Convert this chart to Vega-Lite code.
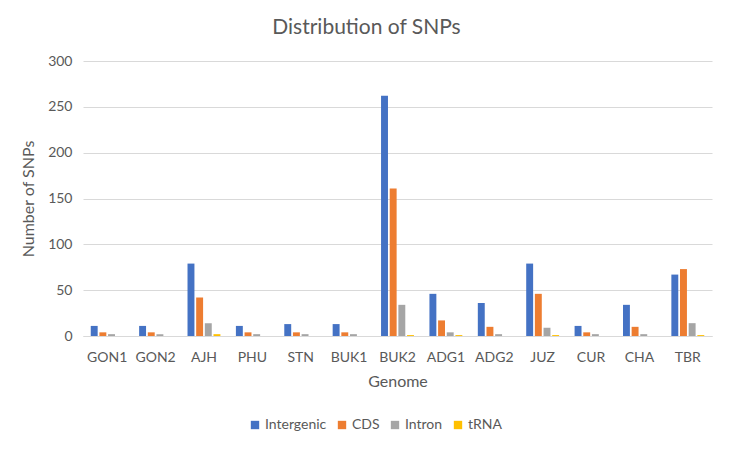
{
  "$schema": "https://vega.github.io/schema/vega-lite/v6.json",
  "width": 629,
  "height": 275,
  "autosize": {"type": "none"},
  "padding": {"left": 83, "top": 61, "right": 20, "bottom": 113},
  "background": "white",
  "title": {
    "text": "Distribution of SNPs",
    "fontSize": 21,
    "font": "Lato",
    "fontWeight": "normal",
    "color": "#595959",
    "anchor": "middle",
    "dx": -31,
    "offset": 16
  },
  "config": {
    "font": "Lato",
    "view": {"stroke": null},
    "axis": {"labelColor": "#595959", "titleColor": "#595959", "labelFont": "Lato", "titleFont": "Lato", "titleFontWeight": "normal"}
  },
  "data": {
    "values": [
      {"genome": "GON1", "type": "Intergenic", "snps": 11},
      {"genome": "GON1", "type": "CDS", "snps": 4},
      {"genome": "GON1", "type": "Intron", "snps": 2},
      {"genome": "GON1", "type": "tRNA", "snps": 0},
      {"genome": "GON2", "type": "Intergenic", "snps": 11},
      {"genome": "GON2", "type": "CDS", "snps": 4},
      {"genome": "GON2", "type": "Intron", "snps": 2},
      {"genome": "GON2", "type": "tRNA", "snps": 0},
      {"genome": "AJH", "type": "Intergenic", "snps": 79},
      {"genome": "AJH", "type": "CDS", "snps": 42},
      {"genome": "AJH", "type": "Intron", "snps": 14},
      {"genome": "AJH", "type": "tRNA", "snps": 2},
      {"genome": "PHU", "type": "Intergenic", "snps": 11},
      {"genome": "PHU", "type": "CDS", "snps": 4},
      {"genome": "PHU", "type": "Intron", "snps": 2},
      {"genome": "PHU", "type": "tRNA", "snps": 0},
      {"genome": "STN", "type": "Intergenic", "snps": 13},
      {"genome": "STN", "type": "CDS", "snps": 4},
      {"genome": "STN", "type": "Intron", "snps": 2},
      {"genome": "STN", "type": "tRNA", "snps": 0},
      {"genome": "BUK1", "type": "Intergenic", "snps": 13},
      {"genome": "BUK1", "type": "CDS", "snps": 4},
      {"genome": "BUK1", "type": "Intron", "snps": 2},
      {"genome": "BUK1", "type": "tRNA", "snps": 0},
      {"genome": "BUK2", "type": "Intergenic", "snps": 262},
      {"genome": "BUK2", "type": "CDS", "snps": 161},
      {"genome": "BUK2", "type": "Intron", "snps": 34},
      {"genome": "BUK2", "type": "tRNA", "snps": 1},
      {"genome": "ADG1", "type": "Intergenic", "snps": 46},
      {"genome": "ADG1", "type": "CDS", "snps": 17},
      {"genome": "ADG1", "type": "Intron", "snps": 4},
      {"genome": "ADG1", "type": "tRNA", "snps": 1},
      {"genome": "ADG2", "type": "Intergenic", "snps": 36},
      {"genome": "ADG2", "type": "CDS", "snps": 10},
      {"genome": "ADG2", "type": "Intron", "snps": 2},
      {"genome": "ADG2", "type": "tRNA", "snps": 0},
      {"genome": "JUZ", "type": "Intergenic", "snps": 79},
      {"genome": "JUZ", "type": "CDS", "snps": 46},
      {"genome": "JUZ", "type": "Intron", "snps": 9},
      {"genome": "JUZ", "type": "tRNA", "snps": 1},
      {"genome": "CUR", "type": "Intergenic", "snps": 11},
      {"genome": "CUR", "type": "CDS", "snps": 4},
      {"genome": "CUR", "type": "Intron", "snps": 2},
      {"genome": "CUR", "type": "tRNA", "snps": 0},
      {"genome": "CHA", "type": "Intergenic", "snps": 34},
      {"genome": "CHA", "type": "CDS", "snps": 10},
      {"genome": "CHA", "type": "Intron", "snps": 2},
      {"genome": "CHA", "type": "tRNA", "snps": 0},
      {"genome": "TBR", "type": "Intergenic", "snps": 67},
      {"genome": "TBR", "type": "CDS", "snps": 73},
      {"genome": "TBR", "type": "Intron", "snps": 14},
      {"genome": "TBR", "type": "tRNA", "snps": 1}
    ]
  },
  "mark": {"type": "bar"},
  "encoding": {
    "x": {
      "field": "genome",
      "type": "nominal",
      "sort": null,
      "scale": {"paddingInner": 0.32, "paddingOuter": 0.16},
      "axis": {
        "title": "Genome",
        "labelAngle": 0,
        "labelFontSize": 14,
        "titleFontSize": 16,
        "labelPadding": 14,
        "titlePadding": 9,
        "ticks": false,
        "domainColor": "#D9D9D9",
        "domainWidth": 1
      }
    },
    "xOffset": {
      "field": "type",
      "type": "nominal",
      "sort": ["Intergenic", "CDS", "Intron", "tRNA"],
      "scale": {"paddingInner": 0.2}
    },
    "y": {
      "field": "snps",
      "type": "quantitative",
      "scale": {"domain": [0, 300], "nice": false},
      "axis": {
        "title": "Number of SNPs",
        "values": [0, 50, 100, 150, 200, 250, 300],
        "labelOverlap": false,
        "labelFontSize": 14,
        "titleFontSize": 16,
        "labelPadding": 11,
        "titlePadding": 11,
        "ticks": false,
        "domain": false,
        "gridColor": "#D9D9D9",
        "gridWidth": 1
      }
    },
    "color": {
      "field": "type",
      "type": "nominal",
      "sort": ["Intergenic", "CDS", "Intron", "tRNA"],
      "scale": {
        "domain": ["Intergenic", "CDS", "Intron", "tRNA"],
        "range": ["#4472C4", "#ED7D31", "#A5A5A5", "#FFC000"]
      },
      "legend": {
        "title": null,
        "orient": "none",
        "direction": "horizontal",
        "legendX": 165,
        "legendY": 357,
        "symbolType": "square",
        "symbolSize": 70,
        "symbolStrokeWidth": 0,
        "labelFontSize": 14,
        "labelColor": "#595959",
        "labelFont": "Lato",
        "columnPadding": 8,
        "labelOffset": 3
      }
    }
  }
}
